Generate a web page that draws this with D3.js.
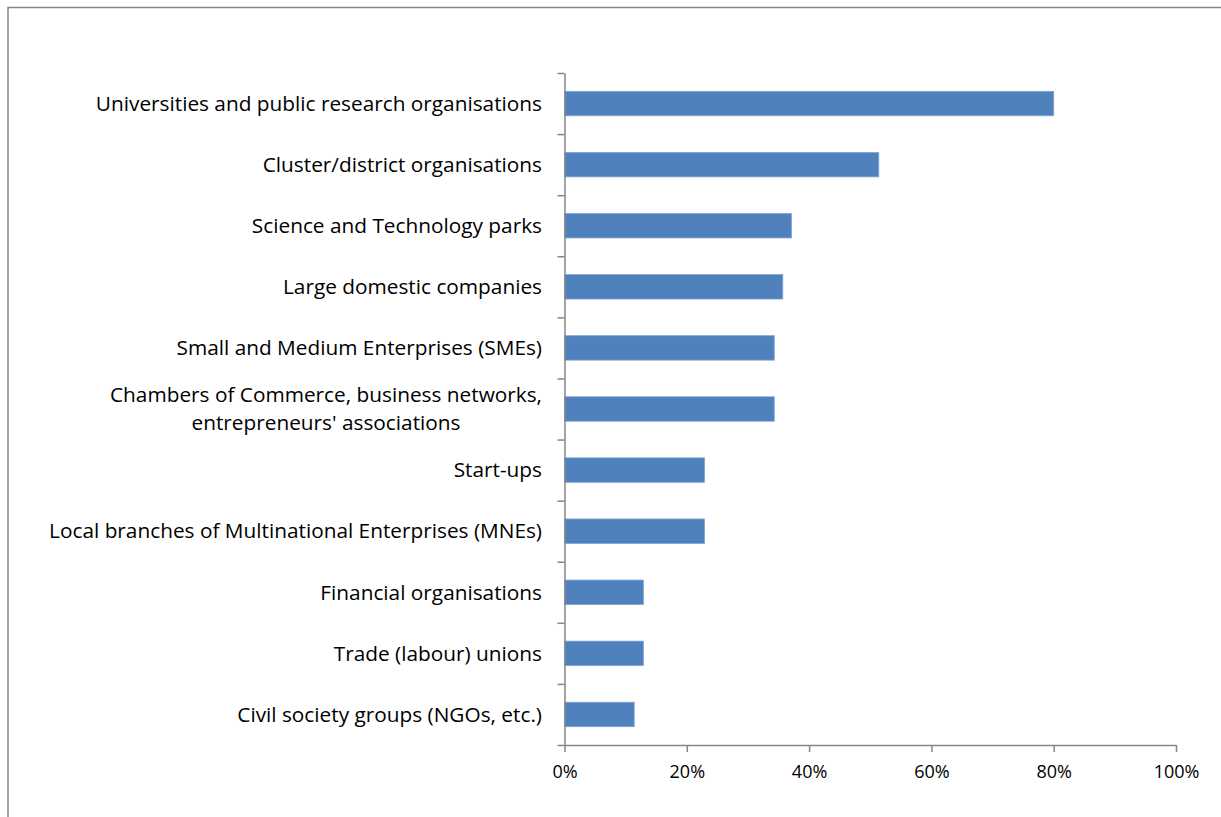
<!DOCTYPE html>
<html>
<head>
<meta charset="utf-8">
<script src="https://cdn.jsdelivr.net/npm/d3@7/dist/d3.min.js"></script>
<style>
  html, body { margin: 0; padding: 0; background: #fff; }
  svg { display: block; }
  text { font-family: "Open Sans", Lato, sans-serif; fill: #000; }
</style>
</head>
<body>
<svg id="chart" width="1221" height="817"></svg>
<script>
// Share of respondents naming each type of partner
const categories = [
  "Universities and public research organisations",
  "Cluster/district organisations",
  "Science and Technology parks",
  "Large domestic companies",
  "Small and Medium Enterprises (SMEs)",
  "Chambers of Commerce, business networks,\nentrepreneurs' associations",
  "Start-ups",
  "Local branches of Multinational Enterprises (MNEs)",
  "Financial organisations",
  "Trade (labour) unions",
  "Civil society groups (NGOs, etc.)"
];
const values = [80.0, 51.4, 37.1, 35.7, 34.3, 34.3, 22.9, 22.9, 12.9, 12.9, 11.4];
const xTicks = [0, 20, 40, 60, 80, 100];

const svg = d3.select("#chart");
const axisColor = "#868686";
const labelFont = 20.8;
const tickFont = 18;

// outer chart frame
svg.append("path")
  .attr("d", "M8,817V7.5H1221")
  .attr("fill", "none")
  .attr("stroke", axisColor)
  .attr("stroke-width", 1.5);

const x = d3.scaleLinear().domain([0, 100]).range([564.5, 1176]);
const y = d3.scaleBand().domain(categories).range([73, 745])
  .paddingInner(0.6).paddingOuter(0.3);

// bars
svg.append("g").selectAll("rect")
  .data(values)
  .join("rect")
  .attr("x", x(0))
  .attr("y", (d, i) => y(categories[i]))
  .attr("width", d => x(d) - x(0))
  .attr("height", y.bandwidth())
  .attr("fill", "#4F81BD")
  .attr("stroke", "#7FA3D3")
  .attr("stroke-width", 0.8);

// category axis with ticks between categories
const yEdges = d3.scaleLinear().domain([0, categories.length]).range([73, 745]);
const gy = svg.append("g")
  .attr("transform", `translate(${x(0)},0)`)
  .call(d3.axisLeft(yEdges)
    .tickValues(d3.range(categories.length + 1))
    .tickFormat("")
    .tickSizeInner(7)
    .tickSizeOuter(0));
gy.selectAll("path, line").attr("stroke", axisColor).attr("stroke-width", 1.5);

// category labels (multi-line labels centred on each other, right-aligned as a block)
const labelRight = 542;
const lineH = 28;
const labels = svg.append("g").style("font-size", labelFont + "px");
categories.forEach(c => {
  const lines = c.split("\n");
  const cy = y(c) + y.bandwidth() / 2;
  const t = labels.append("text").attr("text-anchor", "middle");
  lines.forEach((ln, j) => {
    t.append("tspan")
      .attr("y", cy + (j - (lines.length - 1) / 2) * lineH)
      .attr("dy", "0.35em")
      .text(ln);
  });
  const widths = [];
  t.selectAll("tspan").each(function() { widths.push(this.getComputedTextLength()); });
  const w = d3.max(widths);
  t.selectAll("tspan").attr("x", labelRight - w / 2);
});

// value axis
const gx = svg.append("g")
  .attr("transform", "translate(0,745)")
  .call(d3.axisBottom(x)
    .tickValues(xTicks)
    .tickFormat(d => d + "%")
    .tickSizeInner(7)
    .tickSizeOuter(0)
    .tickPadding(13));
gx.selectAll("path, line").attr("stroke", axisColor).attr("stroke-width", 1.5);
gx.selectAll("text")
  .attr("fill", "#000")
  .style("font-size", tickFont + "px")
  .style("font-family", "'Open Sans', Lato, sans-serif");
</script>
</body>
</html>
